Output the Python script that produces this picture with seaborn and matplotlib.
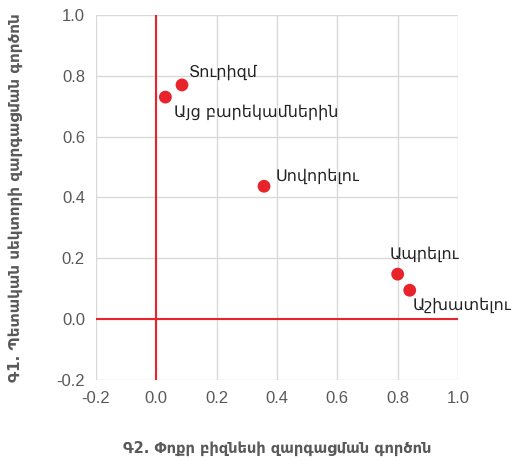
import matplotlib
matplotlib.use('Agg')
import matplotlib.pyplot as plt
import seaborn as sns
import pandas as pd

labels = ['Տուրիզմ', 'Այց բարեկամներին', 'Սովորելու', 'Ապրելու', 'Աշխատելու']
g2 = [0.085, 0.03, 0.357, 0.80, 0.84]
g1 = [0.77, 0.73, 0.437, 0.148, 0.095]

df = pd.DataFrame({'label': labels, 'g2': g2, 'g1': g1})

sns.set_style('white')
plt.rcParams['font.family'] = ['Liberation Sans', 'DejaVu Sans']

fig = plt.figure(figsize=(5.12, 4.61), dpi=100)
ax = fig.add_axes([0.1875, 0.1757, 0.707, 0.7918])

red = '#e8232b'
ax.axvline(0, color=red, lw=1.5, zorder=2)
ax.axhline(0, color=red, lw=1.5, zorder=2)
sns.scatterplot(data=df, x='g2', y='g1', color=red, s=85, edgecolor='none', ax=ax, zorder=3)

# label offsets in points
offsets = {'Տուրիզմ': (5, 6), 'Այց բարեկամներին': (6, -14),
           'Սովորելու': (8, 4), 'Ապրելու': (-6, 11), 'Աշխատելու': (2, -14)}
for _, r in df.iterrows():
    ax.annotate(r['label'], (r['g2'], r['g1']), xytext=offsets[r['label']],
                textcoords='offset points', fontsize=11.5, color='#222222',
                family='DejaVu Sans')

ax.set_xlim(-0.2, 1.0)
ax.set_ylim(-0.2, 1.0)
ticks = [-0.2, 0.0, 0.2, 0.4, 0.6, 0.8, 1.0]
ax.set_xticks(ticks)
ax.set_yticks(ticks)
ax.set_xticklabels([f'{t:.1f}' for t in ticks])
ax.set_yticklabels([f'{t:.1f}' for t in ticks])
ax.tick_params(colors='#595959', labelsize=12, length=0, pad=8)
ax.grid(True, color='#d9d9d9', lw=1)
ax.set_axisbelow(True)
for s in ax.spines.values():
    s.set_visible(False)

ax.set_xlabel('Գ2. Փոքր բիզնեսի զարգացման գործոն', fontsize=10.5,
              fontweight='bold', color='#595959', labelpad=25, family='DejaVu Sans')
ax.set_ylabel('Գ1. Պետական սեկտորի զարգացման գործոն', fontsize=11,
              fontweight='bold', color='#595959', labelpad=24, family='DejaVu Sans')

fig.savefig('out.png', dpi=100)
